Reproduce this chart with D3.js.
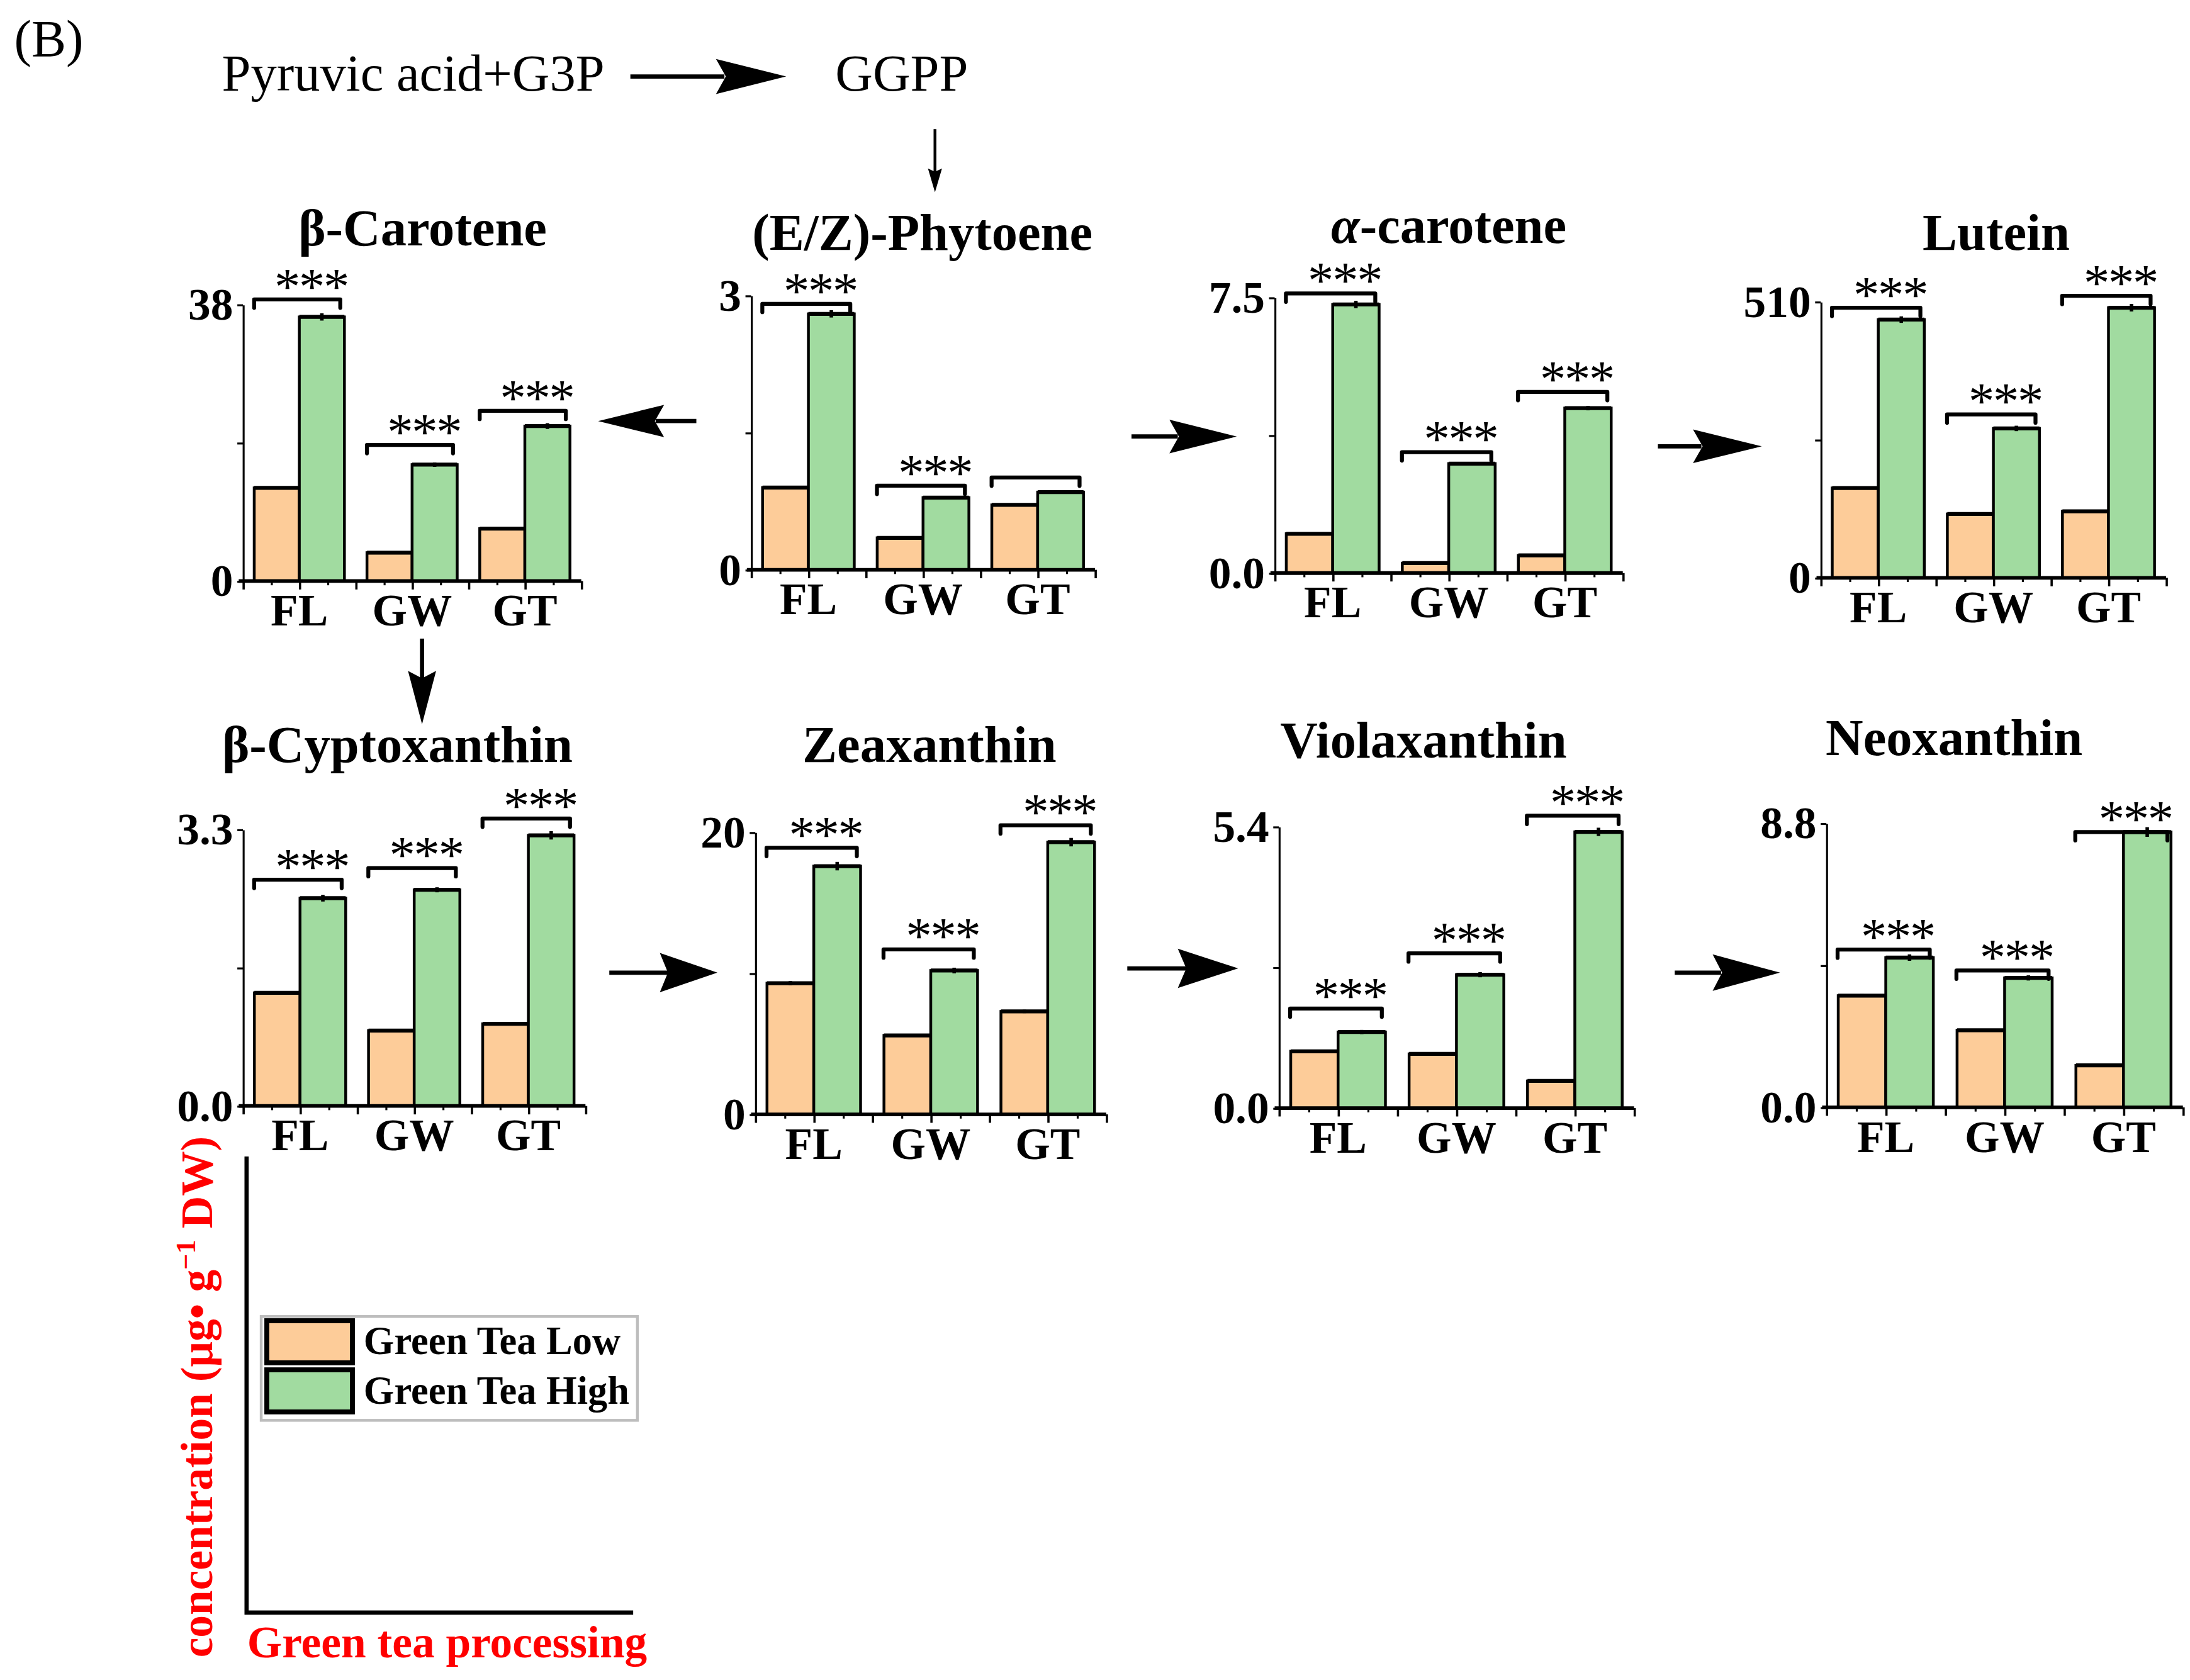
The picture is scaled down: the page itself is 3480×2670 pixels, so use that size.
<!DOCTYPE html>
<html>
<head>
<meta charset="utf-8">
<script src="https://cdn.jsdelivr.net/npm/d3@7"></script>
<style>
  body { margin: 0; background: #fff; }
  text { font-family: "Liberation Serif", "Times New Roman", serif; }
</style>
</head>
<body>
<script>
// data
var stages = ["FL", "GW", "GT"];
var seriesNames = ["Green Tea Low", "Green Tea High"];
var compounds = ["β-Carotene", "(E/Z)-Phytoene", "α-carotene", "Lutein",
                 "β-Cyptoxanthin", "Zeaxanthin", "Violaxanthin", "Neoxanthin"];
var yMax = [38, 3, 7.5, 510, 3.3, 20, 5.4, 8.8];
var yTickLabels = [["0", "38"], ["0", "3"], ["0.0", "7.5"], ["0", "510"],
                   ["0.0", "3.3"], ["0", "20"], ["0.0", "5.4"], ["0.0", "8.8"]];
var lowValues = [
    [12.8, 3.9, 7.2],
    [0.90, 0.35, 0.71],
    [1.07, 0.27, 0.48],
    [166, 118, 123],
    [1.35, 0.90, 0.98],
    [9.3, 5.6, 7.3],
    [1.09, 1.04, 0.52],
    [3.46, 2.39, 1.30]
];
var highValues = [
    [36.3, 16.0, 21.3],
    [2.80, 0.79, 0.85],
    [7.31, 2.98, 4.49],
    [477, 276, 499],
    [2.48, 2.58, 3.23],
    [17.6, 10.2, 19.3],
    [1.46, 2.56, 5.30],
    [4.64, 4.01, 8.53]
];
var lowErr = [
    [0.2, 0.1, 0.2],
    [0.01, 0.01, 0.01],
    [0.03, 0.02, 0.02],
    [3, 2, 2],
    [0.02, 0.01, 0.01],
    [0.15, 0.1, 0.12],
    [0.02, 0.02, 0.01],
    [0.05, 0.04, 0.03]
];
var highErr = [
    [0.5, 0.3, 0.4],
    [0.04, 0.01, 0.02],
    [0.1, 0.04, 0.06],
    [6, 5, 7],
    [0.04, 0.03, 0.05],
    [0.3, 0.2, 0.3],
    [0.04, 0.05, 0.08],
    [0.1, 0.08, 0.15]
];
// height of the significance bracket, in axis units
var sigLevels = [
    [38.7, 18.7, 23.4],
    [2.91, 0.92, 1.01],
    [7.61, 3.29, 4.93],
    [499, 302, 521],
    [2.70, 2.84, 3.43],
    [18.9, 11.7, 20.5],
    [1.91, 2.97, 5.61],
    [4.89, 4.24, 8.53]
];
var sigLabels = [
    ["***", "***", "***"],
    ["***", "***", ""],
    ["***", "***", "***"],
    ["***", "***", "***"],
    ["***", "***", "***"],
    ["***", "***", "***"],
    ["***", "***", "***"],
    ["***", "***", "***"]
];

// layout (drawing units of the 1560 x 1197 viewBox)
var W = 1560, H = 1197;
var colors = ["#FDCC99", "#A1DBA0"];
// [axis x, axis end x, top y, bottom y, title x, title baseline]
var panelBox = [
    [173, 414, 217, 414, 301, 175],
    [535, 780, 210.6, 406, 657, 178],
    [908, 1156, 212, 408.3, 1032, 173],
    [1297, 1543, 215, 411.7, 1422, 178],
    [173, 417, 591, 788, 283, 543],
    [538, 788, 593, 794, 662, 543],
    [911, 1164, 589, 789.5, 1014, 540],
    [1301, 1555, 586.6, 789, 1392, 538]
];

var svg = d3.select("body")
    .append("svg")
    .attr("width", 3480)
    .attr("height", 2670)
    .attr("viewBox", `0 0 ${W} ${H}`);

svg.append("rect").attr("width", W).attr("height", H).attr("fill", "#fff");

compounds.forEach((name, i) => {
    var b = panelBox[i];
    var g = svg.append("g");

    var yScale = d3.scaleLinear()
        .domain([0, yMax[i]])
        .range([b[3], b[2]]);

    var x0 = d3.scaleBand()
        .domain(stages)
        .range([b[0], b[1]])
        .padding(0);

    var x1 = d3.scaleBand()
        .domain(seriesNames)
        .range([0, x0.bandwidth()])
        .paddingInner(0)
        .paddingOuter(0.25);

    var rows = stages.map((s, j) => ({
        stage: s,
        vals: [
            {name: seriesNames[0], v: lowValues[i][j], e: lowErr[i][j]},
            {name: seriesNames[1], v: highValues[i][j], e: highErr[i][j]}
        ]
    }));

    var groups = g.selectAll("g.grp")
        .data(rows)
        .enter()
        .append("g")
        .attr("transform", d => `translate(${x0(d.stage)},0)`);

    groups.selectAll("rect")
        .data(d => d.vals)
        .enter()
        .append("rect")
        .attr("x", d => x1(d.name))
        .attr("y", d => yScale(d.v))
        .attr("width", x1.bandwidth())
        .attr("height", d => yScale(0) - yScale(d.v))
        .attr("fill", (d, k) => colors[k])
        .attr("stroke", "#000")
        .attr("stroke-width", 2);

    // heavier top edge
    groups.selectAll("line.top")
        .data(d => d.vals)
        .enter()
        .append("line")
        .attr("x1", d => x1(d.name))
        .attr("x2", d => x1(d.name) + x1.bandwidth())
        .attr("y1", d => yScale(d.v))
        .attr("y2", d => yScale(d.v))
        .attr("stroke", "#000")
        .attr("stroke-width", 2.8);

    // error whiskers
    groups.selectAll("line.err")
        .data(d => d.vals)
        .enter()
        .append("line")
        .attr("x1", d => x1(d.name) + x1.bandwidth() / 2)
        .attr("x2", d => x1(d.name) + x1.bandwidth() / 2)
        .attr("y1", d => yScale(d.v + d.e))
        .attr("y2", d => yScale(d.v - d.e))
        .attr("stroke", "#000")
        .attr("stroke-width", 2.5);

    // y axis
    var yAxis = d3.axisLeft(yScale)
        .tickValues([0, yMax[i] / 2, yMax[i]])
        .tickSize(4)
        .tickSizeOuter(0)
        .tickPadding(3)
        .tickFormat((d, k) => k == 0 ? yTickLabels[i][0] : (k == 2 ? yTickLabels[i][1] : ""));
    var ya = g.append("g")
        .attr("transform", `translate(${b[0]},0)`)
        .call(yAxis);
    ya.select(".domain").attr("stroke-width", 1.4);
    ya.selectAll(".tick line").attr("stroke-width", 1.4);
    ya.selectAll("text")
        .attr("font-size", 32)
        .attr("font-weight", "bold")
        .attr("fill", "#000")
        .attr("font-family", "Liberation Serif, Times New Roman, serif");

    // x axis: tick marks at quarter steps of each group
    var xt = d3.scaleLinear().domain([0, 3]).range([b[0], b[1]]);
    g.append("g")
        .attr("transform", `translate(0,${b[3]})`)
        .call(d3.axisBottom(xt).tickValues(d3.range(0, 3.01, 0.5)).tickSize(6).tickSizeOuter(0).tickFormat(""))
        .call(a => a.select(".domain").remove())
        .selectAll("line").attr("stroke-width", 1.6);
    g.append("g")
        .attr("transform", `translate(0,${b[3]})`)
        .call(d3.axisBottom(xt).tickValues([0.25, 0.75, 1.25, 1.75, 2.25, 2.75]).tickSize(3).tickFormat(""))
        .call(a => a.select(".domain").remove())
        .selectAll("line").attr("stroke-width", 1.4);
    g.append("line")
        .attr("x1", b[0] - 3)
        .attr("x2", b[1])
        .attr("y1", b[3])
        .attr("y2", b[3])
        .attr("stroke", "#000")
        .attr("stroke-width", 2.6);

    var xa = g.append("g")
        .attr("transform", `translate(0,${b[3]})`)
        .call(d3.axisBottom(x0).tickSize(0).tickPadding(9));
    xa.select(".domain").remove();
    xa.selectAll("text")
        .attr("font-size", 32)
        .attr("font-weight", "bold")
        .attr("fill", "#000")
        .attr("font-family", "Liberation Serif, Times New Roman, serif");

    // significance brackets
    stages.forEach((s, j) => {
        var bx1 = x0(s) + 8;
        var bx2 = x0(s) + x0.bandwidth() - 11;
        var by = yScale(sigLevels[i][j]);
        g.append("path")
            .attr("d", `M${bx1},${by + 6}V${by}H${bx2}V${by + 6}`)
            .attr("fill", "none")
            .attr("stroke", "#000")
            .attr("stroke-width", 2.8)
            .attr("stroke-linejoin", "round")
            .attr("stroke-linecap", "round");
        if (sigLabels[i][j]) {
            g.append("text")
                .attr("x", (bx1 + bx2) / 2 + 10)
                .attr("y", by + 3)
                .attr("text-anchor", "middle")
                .attr("font-size", 37)
                .attr("letter-spacing", -1)
                .text(sigLabels[i][j]);
        }
    });

    // title
    var t = g.append("text")
        .attr("x", b[4])
        .attr("y", b[5])
        .attr("text-anchor", "middle")
        .attr("font-size", 37)
        .attr("font-weight", "bold");
    if (name[0] == "α") {
        t.append("tspan").attr("font-style", "italic").text("α");
        t.append("tspan").text(name.slice(1));
    } else {
        t.text(name);
    }
});

// pathway arrows
function arrow(x1, y1, x2, y2, headLen, halfW, lw) {
    var ang = Math.atan2(y2 - y1, x2 - x1);
    var len = Math.hypot(x2 - x1, y2 - y1);
    var a = svg.append("g")
        .attr("transform", `translate(${x1},${y1}) rotate(${ang * 180 / Math.PI})`);
    a.append("line")
        .attr("x1", 0).attr("y1", 0)
        .attr("x2", len - headLen + 6).attr("y2", 0)
        .attr("stroke", "#000")
        .attr("stroke-width", lw);
    a.append("path")
        .attr("d", `M${len},0L${len - headLen},${-halfW}L${len - headLen * 0.86},0L${len - headLen},${halfW}Z`)
        .attr("fill", "#000");
}

arrow(449, 54.5, 560, 54.5, 50, 12.5, 3);
arrow(666, 92, 666, 137, 17, 5, 2);
arrow(496, 300, 426, 300, 47, 11.5, 3);
arrow(806, 311, 881, 311, 48, 12, 3);
arrow(1181, 318, 1255, 318, 49, 12, 3);
arrow(300.6, 455, 300.6, 516, 38, 10, 3);
arrow(434, 693, 511, 693, 41, 14, 3);
arrow(803, 690, 882, 690, 43, 14, 3);
arrow(1193, 693, 1268, 693, 48, 13, 3);

svg.append("text")
    .attr("x", 10).attr("y", 40)
    .attr("font-size", 37)
    .text("(B)");
svg.append("text")
    .attr("x", 158).attr("y", 64.5)
    .attr("font-size", 37)
    .text("Pyruvic acid+G3P");
svg.append("text")
    .attr("x", 595).attr("y", 64.5)
    .attr("font-size", 37)
    .text("GGPP");

// schematic axes with legend
svg.append("path")
    .attr("d", "M175.6,824V1149H451")
    .attr("fill", "none")
    .attr("stroke", "#000")
    .attr("stroke-width", 3);

var leg = svg.append("g");
leg.append("rect")
    .attr("x", 186).attr("y", 938)
    .attr("width", 268).attr("height", 74)
    .attr("fill", "#fff")
    .attr("stroke", "#bdbdbd")
    .attr("stroke-width", 2);
seriesNames.forEach((s, k) => {
    leg.append("rect")
        .attr("x", 190).attr("y", 941 + k * 35)
        .attr("width", 61).attr("height", 30)
        .attr("fill", colors[k])
        .attr("stroke", "#000")
        .attr("stroke-width", 3.5);
    leg.append("text")
        .attr("x", 259).attr("y", 965 + k * 35)
        .attr("font-size", 28)
        .attr("font-weight", "bold")
        .text(s);
});

var yl = svg.append("text")
    .attr("transform", "translate(151,1181) rotate(-90)")
    .attr("font-size", 32)
    .attr("font-weight", "bold")
    .attr("fill", "#ff0000");
yl.append("tspan").text("concentration (μg• g");
yl.append("tspan").attr("dy", -12).attr("font-size", 20).text("−1");
yl.append("tspan").attr("dy", 12).text(" DW)");

svg.append("text")
    .attr("x", 176).attr("y", 1181)
    .attr("font-size", 32)
    .attr("font-weight", "bold")
    .attr("fill", "#ff0000")
    .text("Green tea processing");
</script>
</body>
</html>
